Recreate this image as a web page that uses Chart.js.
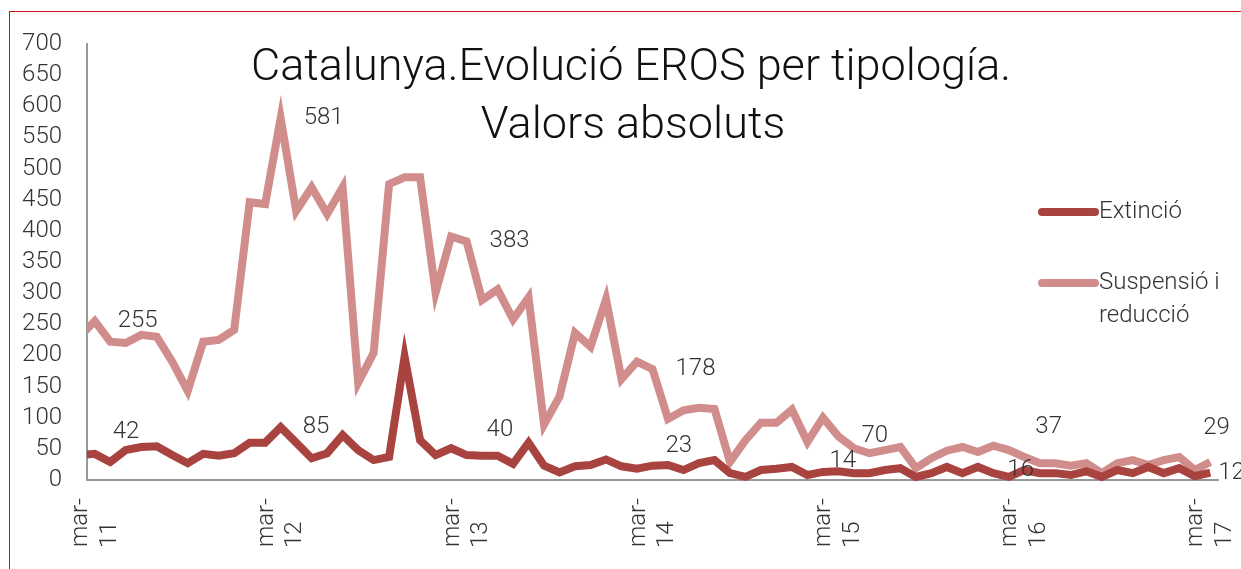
<!DOCTYPE html>
<html>
<head>
<meta charset="utf-8">
<script src="https://cdn.jsdelivr.net/npm/chart.js@4/dist/chart.umd.min.js"></script>
<style>
html, body { margin: 0; padding: 0; background: #fff; overflow: hidden; }
#wrap { position: relative; width: 1241px; height: 569px; }
#frame { position: absolute; left: 9px; top: 11px; width: 1300px; height: 700px; border: 1px solid #d0101a; }
#eros { position: absolute; left: 0; top: 0; }
</style>
</head>
<body>
<div id="wrap">
  <div id="frame"></div>
  <canvas id="eros" width="1241" height="569"></canvas>
</div>
<script>
// months feb-11 .. mar-17 (the feb-11 point sits just outside the axis)
var monthNames = ['ene', 'feb', 'mar', 'abr', 'may', 'jun', 'jul', 'ago', 'sep', 'oct', 'nov', 'dic'];
var firstMonth = 1, firstYear = 11, monthCount = 74;
var categories = [];
for (var m = 0; m < monthCount; m++) {
    var mi = (firstMonth + m) % 12;
    var yy = firstYear + Math.floor((firstMonth + m) / 12);
    categories.push(monthNames[mi] + '-' + yy);
}

var extincio = [
    40, 42, 29, 48, 53, 54, 40, 27, 42, 39,
    43, 60, 60, 85, 60, 35, 43, 72, 48, 32,
    37, 198, 64, 40, 51, 40, 39, 39, 26, 60,
    23, 12, 22, 24, 33, 22, 18, 23, 24, 16,
    27, 32, 11, 5, 16, 18, 21, 8, 13, 14,
    11, 11, 16, 19, 5, 11, 21, 11, 21, 11,
    5, 16, 11, 11, 8, 14, 5, 16, 11, 21,
    11, 19, 6, 12
];
var suspensio = [
    230, 255, 222, 220, 233, 230, 190, 143, 222, 225,
    241, 446, 443, 581, 432, 470, 427, 470, 156, 204,
    475, 486, 486, 301, 391, 383, 289, 306, 258, 293,
    89, 134, 236, 214, 290, 162, 190, 178, 98, 112,
    116, 114, 29, 64, 92, 92, 113, 61, 100, 70,
    51, 43, 48, 53, 19, 35, 47, 53, 45, 55,
    48, 37, 27, 27, 23, 27, 11, 27, 32, 24,
    32, 37, 16, 29
];
var seriesNames = ['Extinció', 'Suspensió i reducció'];
var titleLines = ['Catalunya.Evolució EROS per tipología.', 'Valors absoluts'];

// value labels are shown on the March points
var labelIndex = [];
categories.forEach(function (c, i) { if (c.indexOf('mar') === 0) labelIndex.push(i); });
// label placement relative to the point [dx, dy]
var labelOffsets = [
    [[18, -22], [22, 0], [20, -25], [13, -20], [-9, -10], [-17, 0], [8, 0]],
    [[23, 0], [23, 0], [23, 0], [23, 0], [23, 0], [11, -30], [-7, -34]]
];

var colors = ['#a9433f', '#d18d8c'];
var FONT = 'Roboto';
var textColor = '#333333';

var titlePlugin = {
    id: 'titleText',
    afterDraw: function (chart) {
        var ctx = chart.ctx;
        ctx.save();
        ctx.font = '300 45px ' + FONT;
        ctx.fillStyle = '#111';
        ctx.textAlign = 'center';
        ctx.textBaseline = 'alphabetic';
        ctx.fillText(titleLines[0], 631, 80);
        ctx.fillText(titleLines[1], 633, 138);
        ctx.restore();
    }
};

var legendPlugin = {
    id: 'sideLegend',
    afterDraw: function (chart) {
        var ctx = chart.ctx;
        var rows = [[seriesNames[0]], ['Suspensió i', 'reducció']];
        var ys = [212, 283];
        ctx.save();
        ctx.font = '300 24px ' + FONT;
        ctx.textBaseline = 'middle';
        ctx.textAlign = 'left';
        rows.forEach(function (lines, d) {
            ctx.strokeStyle = colors[d];
            ctx.lineWidth = 8;
            ctx.lineCap = 'round';
            ctx.beginPath();
            ctx.moveTo(1042, ys[d]);
            ctx.lineTo(1095, ys[d]);
            ctx.stroke();
            ctx.fillStyle = textColor;
            lines.forEach(function (t, j) {
                ctx.fillText(t, 1099, ys[d] + j * 33);
            });
        });
        ctx.restore();
    }
};

var valueLabels = {
    id: 'valueLabels',
    afterDatasetsDraw: function (chart) {
        var ctx = chart.ctx;
        ctx.save();
        ctx.font = '300 24px ' + FONT;
        ctx.fillStyle = textColor;
        ctx.textBaseline = 'middle';
        ctx.textAlign = 'left';
        chart.data.datasets.forEach(function (ds, d) {
            var meta = chart.getDatasetMeta(d);
            labelIndex.forEach(function (i, n) {
                var p = meta.data[i];
                var off = labelOffsets[d][n];
                ctx.fillText(String(ds.data[i]), p.x + off[0], p.y + off[1]);
            });
        });
        ctx.restore();
    }
};

var ctx = document.getElementById('eros').getContext('2d');
var myChart = new Chart(ctx, {
    type: 'line',
    data: {
        labels: categories,
        datasets: [{
            label: seriesNames[0],
            data: extincio,
            borderColor: colors[0],
            backgroundColor: colors[0],
            borderWidth: 8,
            pointRadius: 0,
            tension: 0,
            clip: { left: 0, top: false, right: false, bottom: false }
        }, {
            label: seriesNames[1],
            data: suspensio,
            borderColor: colors[1],
            backgroundColor: colors[1],
            borderWidth: 8,
            pointRadius: 0,
            tension: 0,
            clip: { left: 0, top: false, right: false, bottom: false }
        }]
    },
    options: {
        responsive: false,
        animation: false,
        layout: { padding: { top: 44, right: 23, left: 0, bottom: 0 } },
        plugins: {
            legend: { display: false },
            title: { display: false },
            tooltip: { enabled: false }
        },
        scales: {
            x: {
                type: 'category',
                min: 'mar-11',
                offset: true,
                grid: { display: false, drawTicks: false },
                border: { display: true, color: '#999999', width: 2 },
                ticks: {
                    autoSkip: false,
                    minRotation: 90,
                    maxRotation: 90,
                    padding: 18,
                    labelOffset: -14,
                    color: textColor,
                    font: { family: FONT, size: 24, weight: '300' },
                    callback: function (value) {
                        var lab = this.getLabelForValue(value);
                        if (lab.indexOf('mar') !== 0) return null;
                        return ['mar-', lab.split('-')[1] + '    '];
                    }
                },
                afterFit: function (scale) {
                    scale.height = 89;
                    scale.paddingLeft = 0;
                    scale.paddingRight = 0;
                }
            },
            y: {
                min: 0,
                max: 700,
                grid: { display: false, drawTicks: false },
                border: { display: true, color: '#999999', width: 2 },
                ticks: {
                    stepSize: 50,
                    autoSkip: false,
                    padding: 25,
                    color: textColor,
                    font: { family: FONT, size: 24, weight: '300' }
                },
                afterFit: function (scale) { scale.width = 87; }
            }
        }
    },
    plugins: [valueLabels, titlePlugin, legendPlugin]
});
</script>
</body>
</html>
